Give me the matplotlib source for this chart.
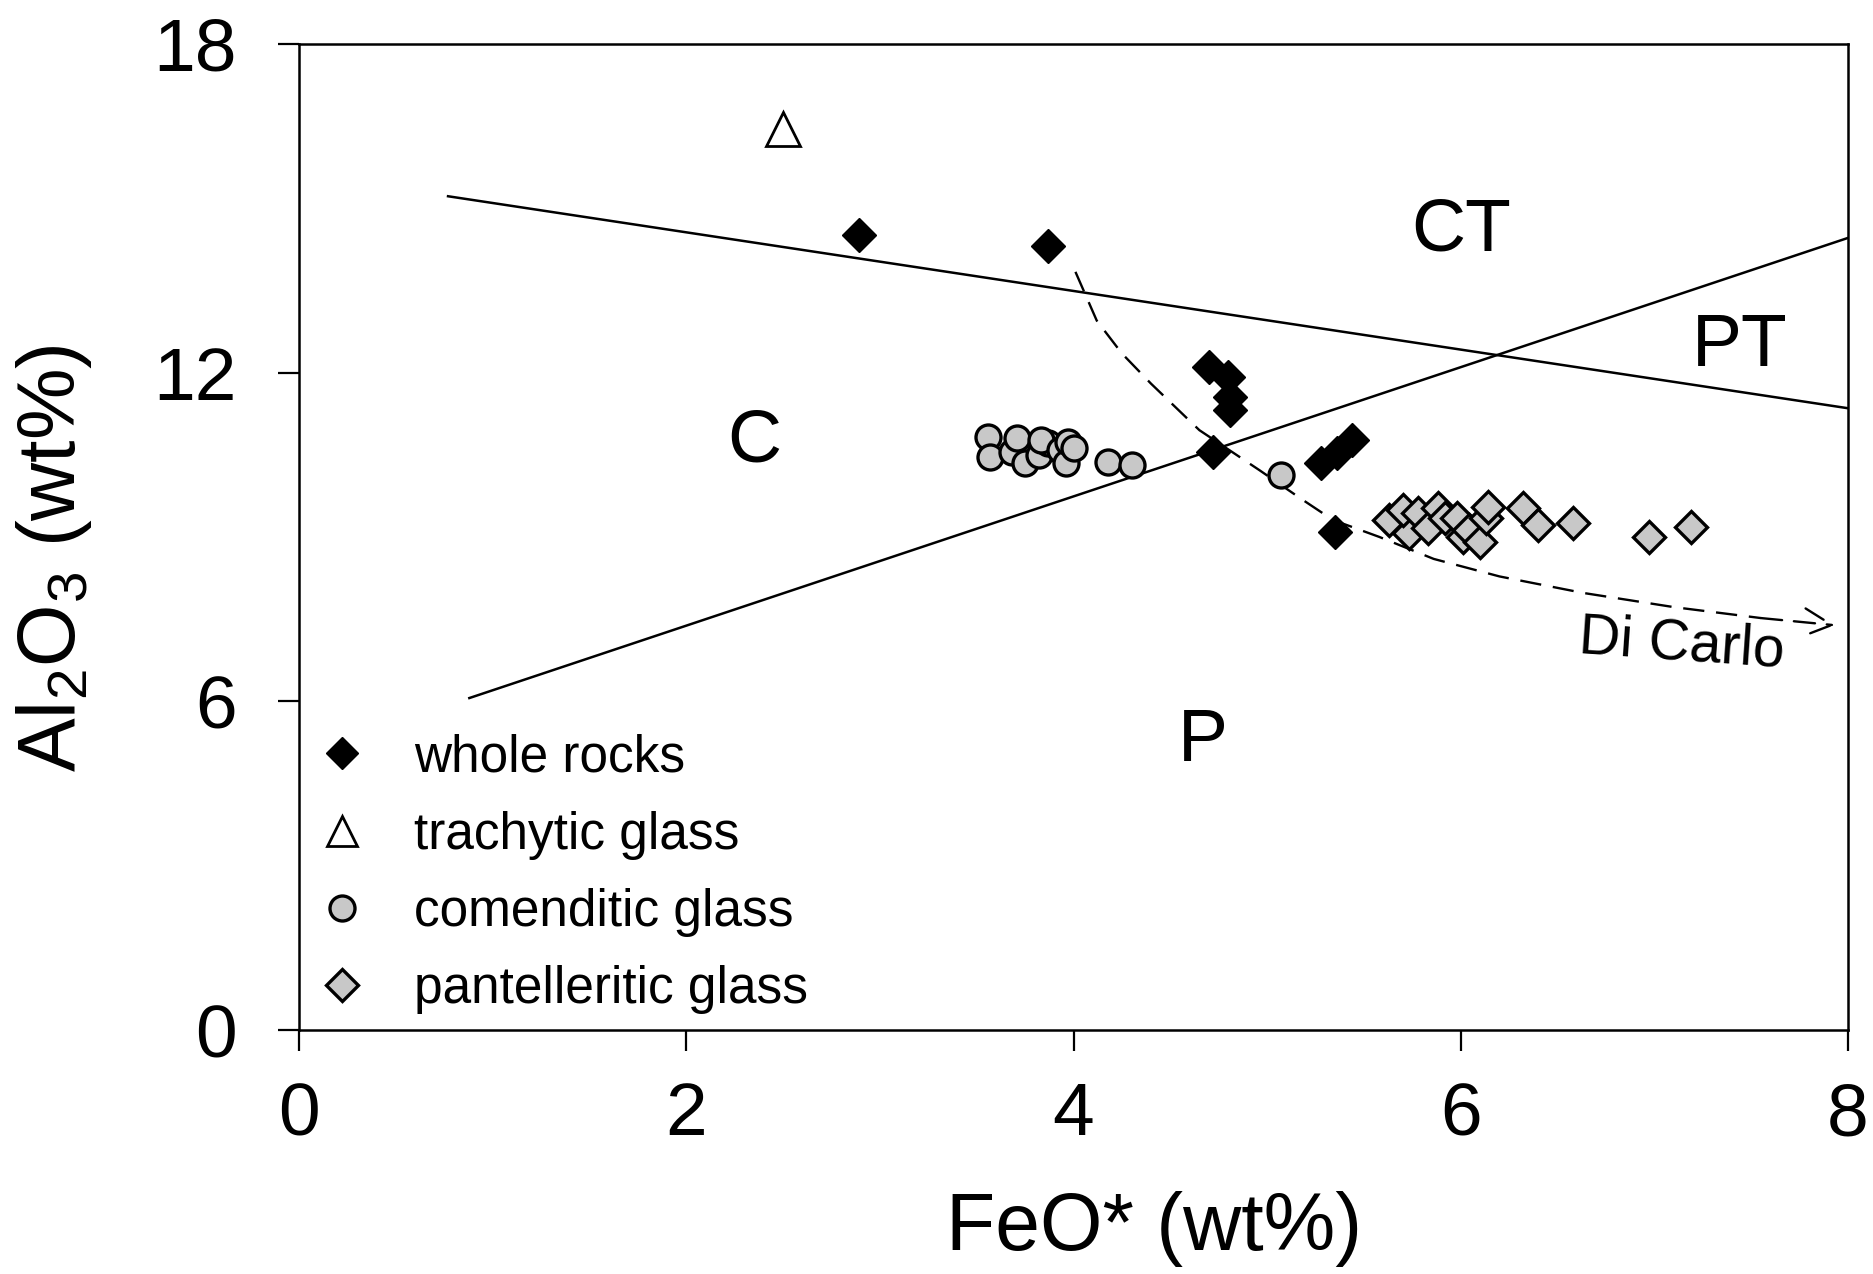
import numpy as np
import matplotlib
matplotlib.use('Agg')
from matplotlib import pyplot as plt
from matplotlib.lines import Line2D

plt.rcParams['font.family'] = ['Liberation Sans', 'DejaVu Sans']
plt.rcParams['mathtext.fontset'] = 'custom'
plt.rcParams['mathtext.rm'] = 'Liberation Sans'
plt.rcParams['mathtext.it'] = 'Liberation Sans:italic'

# whole rocks (FeO*, Al2O3)
wr_feo = [2.89, 3.87, 4.70, 4.80, 4.81, 4.81, 4.72, 5.28, 5.36, 5.44, 5.35]
wr_al = [14.51, 14.31, 12.10, 11.92, 11.55, 11.31, 10.55, 10.35, 10.53, 10.77, 9.10]

# trachytic glass
tr_feo = [2.50]
tr_al = [16.45]

# comenditic glass
com_feo = [3.56, 3.57, 3.68, 3.71, 3.75, 3.82, 3.87, 3.83, 3.93, 3.96, 3.97, 4.00, 4.18, 4.30, 5.07]
com_al = [10.83, 10.46, 10.55, 10.81, 10.35, 10.50, 10.72, 10.77, 10.59, 10.35, 10.73, 10.62, 10.37, 10.31, 10.13]

# pantelleritic glass
pan_feo = [5.63, 5.73, 5.70, 5.78, 5.83, 5.88, 5.92, 5.98, 6.01, 6.04, 6.10, 6.13, 6.14,
           6.32, 6.40, 6.58, 6.97, 7.19]
pan_al = [9.31, 9.07, 9.49, 9.44, 9.16, 9.53, 9.35, 9.35, 9.00, 9.13, 8.91, 9.35, 9.55,
          9.53, 9.22, 9.26, 9.00, 9.18]

# classification boundaries
bnd1_x = [0.77, 8.0]
bnd1_y = [15.22, 11.35]
bnd2_x = [0.88, 8.0]
bnd2_y = [6.06, 14.46]

# Di Carlo trend
dc_x = [4.01, 4.12, 4.25, 4.40, 4.65, 4.96, 5.17, 5.34, 5.58, 5.86, 6.20, 6.63, 7.10, 7.55, 7.93]
dc_y = [13.84, 12.95, 12.35, 11.80, 10.95, 10.22, 9.71, 9.31, 9.00, 8.60, 8.28, 7.98, 7.72, 7.52, 7.39]

fields = ['CT', 'PT', 'C', 'P']
field_x = [6.00, 7.44, 2.35, 4.67]
field_y = [14.59, 12.48, 10.73, 5.26]

grey = '#c8c8c8'

fig = plt.figure(figsize=(18.73, 12.74), dpi=100)
ax = fig.add_axes([0.1596, 0.1915, 0.8271, 0.774])

ax.plot(bnd1_x, bnd1_y, color='black', lw=1.8, zorder=1)
ax.plot(bnd2_x, bnd2_y, color='black', lw=1.8, zorder=1)

ax.plot(dc_x[:-1], dc_y[:-1], color='black', lw=1.7, linestyle=(0, (9, 5)), zorder=1)
ax.annotate('', xy=(dc_x[-1], dc_y[-1]), xytext=(dc_x[-2], dc_y[-2]),
            arrowprops=dict(arrowstyle='->', color='black', lw=1.7, linestyle=(0, (9, 5)),
                            mutation_scale=50, shrinkA=0, shrinkB=0), zorder=1)
ax.text(7.14, 7.03, 'Di Carlo', fontsize=41, rotation=-4, ha='center', va='center')

ax.plot(com_feo, com_al, 'o', ms=18, mfc=grey, mec='black', mew=2.4, ls='none', zorder=3)
ax.plot(pan_feo, pan_al, 'D', ms=16.5, mfc=grey, mec='black', mew=2.4, ls='none', zorder=3)
ax.plot(wr_feo, wr_al, 'D', ms=17, mfc='black', mec='black', mew=1, ls='none', zorder=4)
ax.plot(tr_feo, tr_al, '^', ms=24, mfc='white', mec='black', mew=2, ls='none', zorder=4)

for lab, fx, fy in zip(fields, field_x, field_y):
    ax.text(fx, fy, lab, fontsize=54, ha='center', va='center')

ax.set_xlim(0, 8)
ax.set_ylim(0, 18)
ax.set_xticks([0, 2, 4, 6, 8])
ax.set_yticks([0, 6, 12, 18])
ax.tick_params(direction='out', length=15, width=1.6, labelsize=54)
ax.tick_params(axis='x', pad=22)
ax.tick_params(axis='y', pad=30)
for sp in ax.spines.values():
    sp.set_linewidth(1.8)

ax.set_xlabel('FeO* (wt%)', fontsize=58)
ax.xaxis.set_label_coords(0.552, -0.163)
ax.set_ylabel(r'Al$_\mathregular{2}$O$_\mathregular{3}$ (wt%)', fontsize=58)
ax.yaxis.set_label_coords(-0.132, 0.479)

handles = [
    Line2D([], [], marker='D', ls='none', ms=16, mfc='black', mec='black'),
    Line2D([], [], marker='^', ls='none', ms=22, mfc='white', mec='black', mew=2),
    Line2D([], [], marker='o', ls='none', ms=18, mfc=grey, mec='black', mew=2.4),
    Line2D([], [], marker='D', ls='none', ms=16, mfc=grey, mec='black', mew=2.4),
]
labels = ['whole rocks', 'trachytic glass', 'comenditic glass', 'pantelleritic glass']
ax.legend(handles, labels, loc='lower left', bbox_to_anchor=(0.0145, 0.016), frameon=False,
          fontsize=37, handlelength=0.8, handletextpad=1.0, labelspacing=0.55,
          borderpad=0, borderaxespad=0)

fig.savefig('out.png', dpi=100)
